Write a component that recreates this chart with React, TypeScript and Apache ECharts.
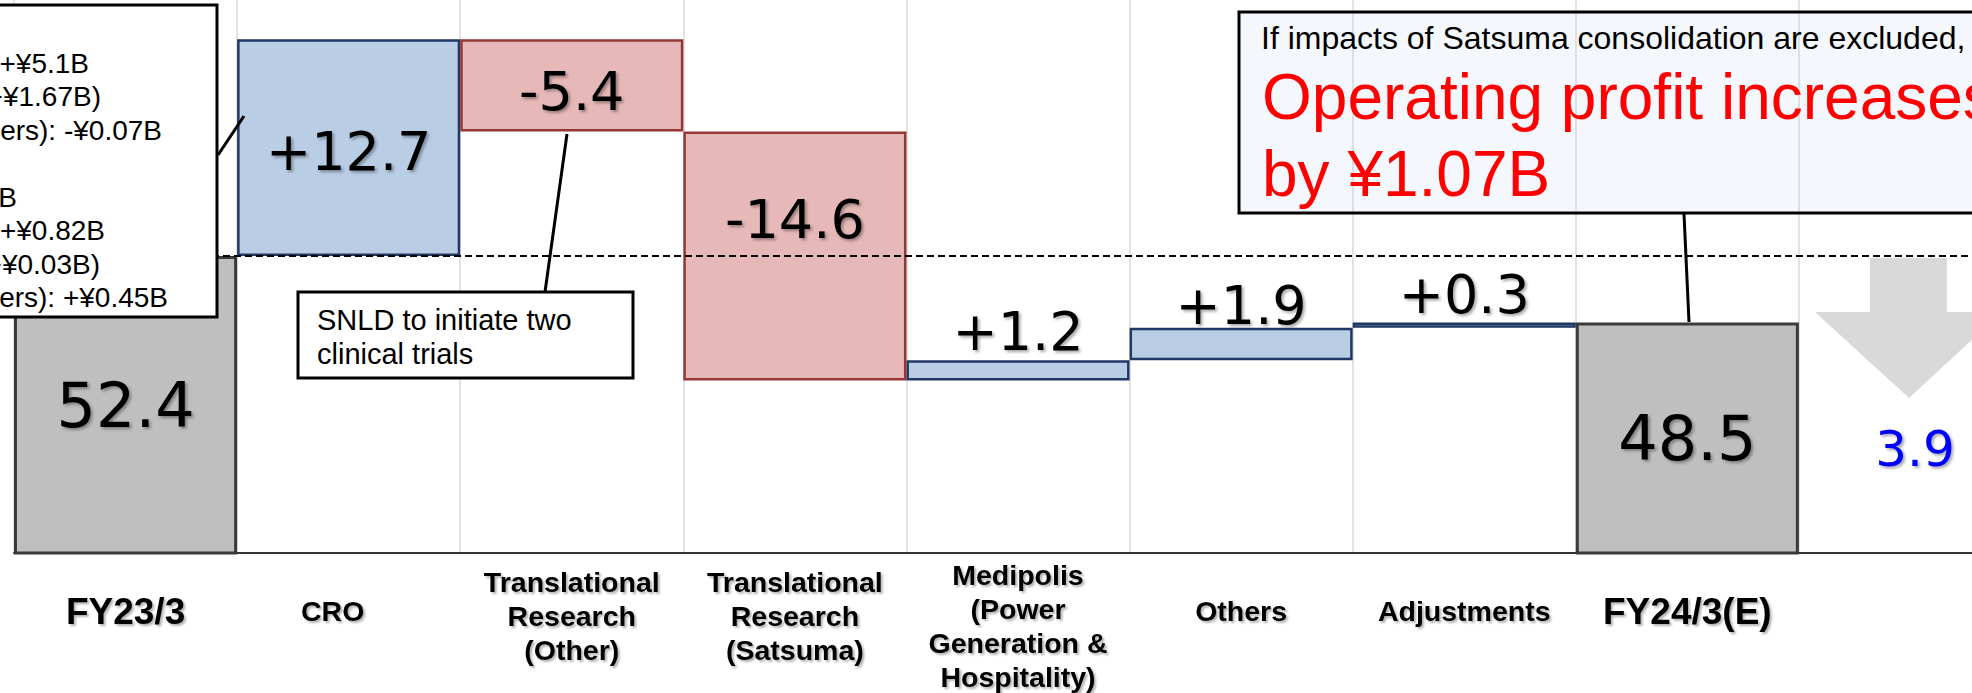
import React, { useEffect, useRef } from 'react';
import * as echarts from 'echarts';

// Operating profit bridge, FY23/3 -> FY24/3(E), in ¥ billions
const categories = [
  'FY23/3',
  'CRO',
  'Translational\nResearch\n(Other)',
  'Translational\nResearch\n(Satsuma)',
  'Medipolis\n(Power\nGeneration &\nHospitality)',
  'Others',
  'Adjustments',
  'FY24/3(E)',
  '',
];
const openingProfit = 52.4;
const segmentChanges = [12.7, -5.4, -14.6, 1.2, 1.9, 0.3];
const closingProfit = 48.5;

// Annotation texts
const breakdownLines = ['+¥5.1B', '+¥1.67B)', 'ers): -¥0.07B', 'B', '+¥0.82B', '+¥0.03B)', 'ers): +¥0.45B'];
const noteLines = ['SNLD to initiate two', 'clinical trials'];
const calloutIntro = 'If impacts of Satsuma consolidation are excluded,';
const calloutHeadline = ['Operating profit increases', 'by ¥1.07B'];

const SANS = '"Liberation Sans", Arial, sans-serif';
const NUM = '"DejaVu Sans", Verdana, sans-serif';

const labelShadow = {
  textShadowColor: 'rgba(0,0,0,0.35)',
  textShadowBlur: 3,
  textShadowOffsetX: 2,
  textShadowOffsetY: 2,
};

// Value-label placement per category column
const labelPlacement: Record<number, any> = {
  0: { position: 'inside' },
  1: { position: 'inside', offset: [0, 4] },
  2: { position: 'inside', offset: [0, 6] },
  3: { position: 'inside', offset: [0, -37] },
  4: { position: 'top', distance: 2 },
  5: { position: 'top', distance: -5 },
  6: { position: 'top', distance: 1 },
  7: { position: 'inside' },
};

// Padding [top, right, bottom, left] of individual category names (centred labels)
const categoryLabelPadding: Record<number, number[]> = {
  1: [0, 32, 0, 0],
  2: [10, 0, 0, 0],
  3: [10, 0, 0, 0],
  4: [30, 0, 0, 0],
};

function buildSeriesData() {
  const base: (number | string)[] = ['-'];
  const rise: (number | string)[] = ['-'];
  const fall: (number | string)[] = ['-'];
  let running = openingProfit;
  segmentChanges.forEach((d) => {
    const next = Math.round((running + d) * 10) / 10;
    base.push(Math.min(running, next));
    rise.push(d > 0 ? d : '-');
    fall.push(d < 0 ? Math.round(-d * 10) / 10 : '-');
    running = next;
  });
  base.push('-', '-');
  rise.push('-', '-');
  fall.push('-', '-');
  const totals: (number | string)[] = categories.map((_, i) =>
    i === 0 ? openingProfit : i === 7 ? closingProfit : '-'
  );
  return { base, rise, fall, totals };
}

function withLabels(arr: (number | string)[]) {
  return arr.map((v, i) => (v === '-' ? '-' : { value: v, label: labelPlacement[i] }));
}

function textEl(text: string, x: number, y: number, size: number, opts: any = {}) {
  const align = opts.align || 'left';
  return {
    type: 'text',
    z: 20,
    silent: true,
    style: {
      text,
      x,
      y,
      fill: opts.color || '#000',
      fontSize: size,
      fontFamily: opts.family || SANS,
      fontWeight: opts.weight || 'normal',
      align,
      textAlign: align,
      verticalAlign: 'middle',
      textVerticalAlign: 'middle',
      ...(opts.shadow ? labelShadow : {}),
    },
  };
}

export default function App() {
  const ref = useRef<HTMLDivElement>(null);

  useEffect(() => {
    if (!ref.current) return;
    const chart = echarts.init(ref.current, undefined, { renderer: 'svg' });
    const { base, rise, fall, totals } = buildSeriesData();
    const gap = (openingProfit - closingProfit).toFixed(1);

    const breakdownRight = [89, 101, 162, 17, 105, 100, 168];
    const breakdownY = [63, 96, 130, 197, 230, 264, 297];

    const graphic: any[] = [
      // breakdown box at the left edge
      {
        type: 'rect', z: 15, silent: true,
        shape: { x: -10, y: 5, width: 227, height: 312 },
        style: { fill: '#fff', stroke: '#000', lineWidth: 3 },
      },
      ...breakdownLines.map((t, i) => textEl(t, breakdownRight[i], breakdownY[i], 28, { align: 'right' })),
      {
        type: 'line', z: 15, silent: true,
        shape: { x1: 218, y1: 155, x2: 244, y2: 116 },
        style: { stroke: '#000', lineWidth: 3 },
      },
      // SNLD note
      {
        type: 'rect', z: 15, silent: true,
        shape: { x: 298, y: 292, width: 335, height: 86 },
        style: { fill: '#fff', stroke: '#000', lineWidth: 3 },
      },
      textEl(noteLines[0], 317, 320, 29),
      textEl(noteLines[1], 317, 354, 29),
      {
        type: 'line', z: 15, silent: true,
        shape: { x1: 567, y1: 134, x2: 545, y2: 292 },
        style: { stroke: '#000', lineWidth: 3 },
      },
      // consolidation callout
      {
        type: 'rect', z: 15, silent: true,
        shape: { x: 1239, y: 12, width: 780, height: 201 },
        style: { fill: 'rgba(200,214,240,0.2)', stroke: '#000', lineWidth: 3 },
      },
      textEl(calloutIntro, 1261, 38, 32),
      textEl(calloutHeadline[0], 1262, 97, 64, { color: '#ff0000' }),
      textEl(calloutHeadline[1], 1262, 174, 64, { color: '#ff0000' }),
      {
        type: 'line', z: 15, silent: true,
        shape: { x1: 1684, y1: 214, x2: 1689, y2: 322 },
        style: { stroke: '#000', lineWidth: 3 },
      },
      // Satsuma impact arrow
      {
        type: 'polygon', z: 15, silent: true,
        shape: {
          points: [
            [1870, 258], [1947, 258], [1947, 312], [2002, 312],
            [1909, 398], [1815, 312], [1870, 312],
          ],
        },
        style: { fill: '#d9d9d9' },
      },
      textEl(gap, 1915, 449, 50, { align: 'center', family: NUM, color: '#0000ff', shadow: true }),
    ];

    const numLabel = {
      show: true,
      color: '#000',
      fontFamily: NUM,
      fontSize: 54,
      ...labelShadow,
    };

    const axisShadow = {
      textShadowColor: 'rgba(0,0,0,0.3)',
      textShadowBlur: 2,
      textShadowOffsetX: 2,
      textShadowOffsetY: 2,
    };

    chart.setOption({
      animation: false,
      grid: {
        left: 14, top: 0, width: 2008, height: 553,
        containLabel: false, outerBoundsMode: 'none',
      },
      xAxis: {
        type: 'category',
        data: categories.map((c, i) =>
          categoryLabelPadding[i]
            ? { value: c, textStyle: { verticalAlign: 'middle', padding: categoryLabelPadding[i] } }
            : c
        ),
        boundaryGap: true,
        axisTick: { show: false },
        axisLine: { lineStyle: { color: '#333', width: 2 } },
        splitLine: { show: true, interval: 0, lineStyle: { color: '#d9d9d9', width: 1.5 } },
        axisLabel: {
          interval: 0,
          margin: 58,
          verticalAlign: 'middle',
          color: '#000',
          fontFamily: SANS,
          fontWeight: 'bold',
          fontSize: 28.5,
          lineHeight: 34,
          ...axisShadow,
          formatter: (v: string) => (v.startsWith('FY') ? `{fy|${v}}` : v),
          rich: {
            fy: {
              fontSize: 37,
              fontWeight: 'bold',
              fontFamily: SANS,
              color: '#000',
              lineHeight: 44,
              ...axisShadow,
            },
          },
        },
      },
      yAxis: {
        type: 'value',
        show: false,
        min: 35,
        max: 67.4,
        splitLine: { show: false },
      },
      series: [
        {
          name: 'base',
          type: 'bar',
          stack: 'bridge',
          barWidth: '100%',
          z: 1,
          silent: true,
          itemStyle: { color: 'rgba(0,0,0,0)', borderWidth: 0 },
          data: base,
          markLine: {
            silent: true,
            symbol: ['none', 'none'],
            label: { show: false },
            lineStyle: { color: '#000', type: [7, 4], width: 1.8 },
            data: [{ yAxis: openingProfit }],
          },
        },
        {
          name: 'increase',
          type: 'bar',
          stack: 'bridge',
          barWidth: '100%',
          itemStyle: { color: '#b9cde5', borderColor: '#203864', borderWidth: 2.5 },
          label: { ...numLabel, formatter: (p: any) => `+${p.value}` },
          data: withLabels(rise),
        },
        {
          name: 'decrease',
          type: 'bar',
          stack: 'bridge',
          barWidth: '100%',
          itemStyle: { color: '#e6b9b8', borderColor: '#953735', borderWidth: 2.5 },
          label: { ...numLabel, formatter: (p: any) => `-${p.value}` },
          data: withLabels(fall),
        },
        {
          name: 'total',
          type: 'bar',
          stack: 'bridge',
          barWidth: '100%',
          itemStyle: { color: '#bfbfbf', borderColor: '#3a3a3a', borderWidth: 3 },
          label: { ...numLabel, fontSize: 62, formatter: (p: any) => `${p.value}` },
          data: withLabels(totals),
        },
      ],
      graphic,
    });

    return () => chart.dispose();
  }, []);

  // The plot runs past the right edge of the 1972px frame; the frame crops it.
  return (
    <div
      style={{
        position: 'absolute', left: 0, top: 0, width: 1972, height: 693,
        overflow: 'hidden', background: '#fff',
      }}
    >
      <div ref={ref} style={{ width: 2030, height: 693 }} />
    </div>
  );
}
